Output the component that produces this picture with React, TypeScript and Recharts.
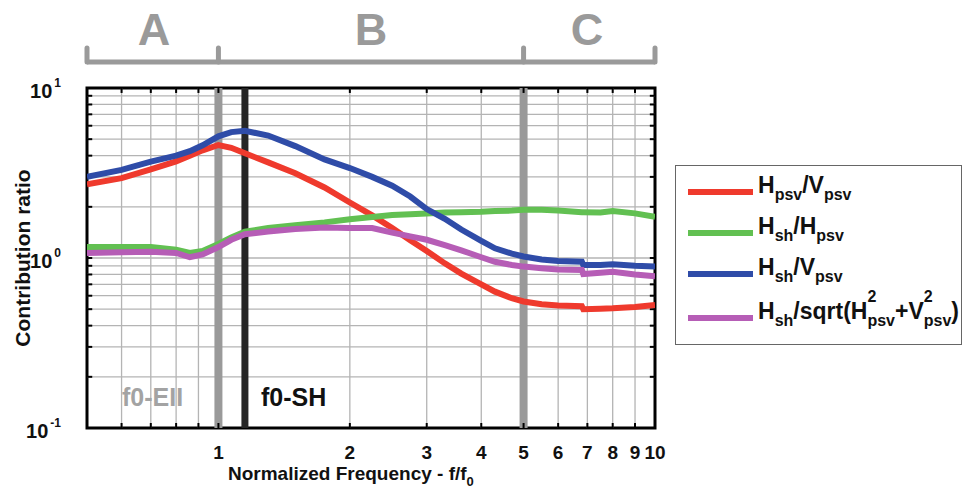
import { ComposedChart, Line, XAxis, YAxis, ReferenceLine, ReferenceArea } from 'recharts';

// normalized frequency f/f0
const freq = [0.5, 0.6, 0.7, 0.8, 0.86, 0.92, 1.0, 1.07, 1.15, 1.3, 1.5, 1.75, 2.0, 2.25, 2.5, 2.75, 3.0, 3.3, 3.6, 4.0, 4.3, 4.7, 5.0, 5.5, 6.0, 6.8, 6.85, 7.5, 8.0, 9.0, 10.0];

const hpsvVpsv = [2.71, 2.95, 3.32, 3.7, 4.0, 4.3, 4.62, 4.45, 4.13, 3.65, 3.15, 2.6, 2.12, 1.78, 1.5, 1.27, 1.1, 0.93, 0.81, 0.7, 0.634, 0.58, 0.555, 0.535, 0.525, 0.52, 0.5, 0.503, 0.506, 0.515, 0.53];
const hshHpsv = [1.16, 1.16, 1.16, 1.12, 1.07, 1.1, 1.21, 1.32, 1.43, 1.5, 1.56, 1.62, 1.69, 1.74, 1.79, 1.81, 1.83, 1.85, 1.86, 1.87, 1.89, 1.9, 1.92, 1.92, 1.9, 1.86, 1.86, 1.85, 1.89, 1.83, 1.75];
const hshVpsv = [3.0, 3.3, 3.69, 4.0, 4.25, 4.6, 5.2, 5.5, 5.6, 5.25, 4.55, 3.8, 3.38, 3.0, 2.66, 2.3, 1.94, 1.7, 1.47, 1.26, 1.14, 1.06, 1.02, 0.98, 0.96, 0.95, 0.91, 0.91, 0.92, 0.9, 0.89];
const hshSqrt = [1.07, 1.08, 1.09, 1.07, 1.01, 1.05, 1.16, 1.28, 1.38, 1.43, 1.48, 1.51, 1.5, 1.5, 1.41, 1.34, 1.28, 1.19, 1.11, 1.01, 0.95, 0.91, 0.89, 0.87, 0.855, 0.85, 0.805, 0.82, 0.83, 0.8, 0.78];

const xTicks = [1, 2, 3, 4, 5, 6, 7, 8, 9, 10];
const yTicks = [0.1, 1, 10];
const xGrid = [0.6, 0.7, 0.8, 0.9, 1, 2, 3, 4, 5, 6, 7, 8, 9];
const yGrid = [0.2, 0.3, 0.4, 0.5, 0.6, 0.7, 0.8, 0.9, 1, 2, 3, 4, 5, 6, 7, 8, 9];
const bracketX = [0.5, 1, 5, 10];

const data = freq.map((f, i) => ({
  f,
  hpsvVpsv: hpsvVpsv[i],
  hshHpsv: hshHpsv[i],
  hshVpsv: hshVpsv[i],
  hshSqrt: hshSqrt[i],
}));

const RED = '#ef3a2d';
const GREEN = '#62c052';
const BLUE = '#2f4ca8';
const MAGENTA = '#b65db6';
const BAND = '#9a9a9a';

const FONT = '"Liberation Sans", Arial, Helvetica, sans-serif';

const XTick = ({ x, y, payload }: any) => (
  <text x={x} y={y + 29} textAnchor="middle" fontSize={19} fontWeight="bold" fill="#111" fontFamily={FONT}>
    {payload.value}
  </text>
);

const YTick = ({ x, y, payload }: any) => {
  const exp = Math.round(Math.log10(payload.value));
  return (
    <text x={x - 24} y={y + 10} textAnchor="end" fontSize={20} fontWeight="bold" fill="#111" fontFamily={FONT}>
      10
      <tspan dx={2} dy={-11} fontSize={12}>{exp}</tspan>
    </text>
  );
};

// subscript, optionally with a superscript stacked above it
const Scripts = ({ sup, sub }: { sup?: string; sub: string }) => (
  <span style={{ position: 'relative', display: 'inline-block', fontSize: 16 }}>
    {sup && <span style={{ position: 'absolute', left: 0, top: -17 }}>{sup}</span>}
    <span style={{ position: 'relative', top: 7 }}>{sub}</span>
  </span>
);

const legendItems = [
  { color: RED, label: <>H<Scripts sub="psv" />/V<Scripts sub="psv" /></> },
  { color: GREEN, label: <>H<Scripts sub="sh" />/H<Scripts sub="psv" /></> },
  { color: BLUE, label: <>H<Scripts sub="sh" />/V<Scripts sub="psv" /></> },
  { color: MAGENTA, label: <>H<Scripts sub="sh" />/sqrt(H<Scripts sup="2" sub="psv" />+V<Scripts sup="2" sub="psv" />)</> },
];
const legendRows = [26, 67, 108, 152];

export default function App() {
  return (
    <div style={{ position: 'relative', width: 964, height: 491, background: '#fff', fontFamily: FONT }}>
      <style>{'body{margin:0}'}</style>
      <ComposedChart width={964} height={491} data={data} margin={{ top: 88, right: 309, bottom: 33, left: 27 }}>
        <XAxis
          dataKey="f"
          type="number"
          scale="log"
          domain={[0.5, 10]}
          allowDataOverflow
          ticks={xTicks}
          tick={<XTick />}
          tickLine={false}
          axisLine={false}
          tickSize={0}
          height={30}
          interval={0}
        />
        <YAxis
          type="number"
          scale="log"
          domain={[0.1, 10]}
          allowDataOverflow
          ticks={yTicks}
          tick={<YTick />}
          tickLine={false}
          axisLine={false}
          tickSize={0}
          width={60}
          interval={0}
        />
        {xGrid.map((v) => (
          <ReferenceLine key={'gx' + v} x={v} stroke="#b4b4b4" strokeWidth={1.3} />
        ))}
        {yGrid.map((v) => (
          <ReferenceLine key={'gy' + v} y={v} stroke="#b4b4b4" strokeWidth={1.3} />
        ))}
        <ReferenceLine x={1} stroke={BAND} strokeWidth={8} />
        <ReferenceLine x={1.15} stroke="#262626" strokeWidth={7} />
        <ReferenceLine x={5} stroke={BAND} strokeWidth={8} />

        {/* small inner ticks on the frame */}
        {xGrid.map((v) => (
          <ReferenceLine key={'tb' + v} segment={[{ x: v, y: 0.1 }, { x: v, y: 0.107 }]} stroke="#000" strokeWidth={2} />
        ))}
        {xGrid.map((v) => (
          <ReferenceLine key={'tt' + v} segment={[{ x: v, y: 10 }, { x: v, y: 9.35 }]} stroke="#000" strokeWidth={2} />
        ))}
        {yGrid.map((v) => (
          <ReferenceLine key={'tl' + v} segment={[{ x: 0.5, y: v }, { x: 0.514, y: v }]} stroke="#000" strokeWidth={2} />
        ))}
        {yGrid.map((v) => (
          <ReferenceLine key={'tr' + v} segment={[{ x: 10, y: v }, { x: 9.73, y: v }]} stroke="#000" strokeWidth={2} />
        ))}

        {/* A / B / C bracket above the plot */}
        <ReferenceLine segment={[{ x: 0.5, y: 14.2 }, { x: 10, y: 14.2 }]} stroke={BAND} strokeWidth={5} ifOverflow="visible" />
        {bracketX.map((v) => (
          <ReferenceLine
            key={'br' + v}
            segment={[{ x: v, y: 14.2 }, { x: v, y: 17.2 }]}
            stroke={BAND}
            strokeWidth={5}
            strokeLinecap="round"
            ifOverflow="visible"
          />
        ))}

        <Line dataKey="hpsvVpsv" stroke={RED} strokeWidth={6} dot={false} isAnimationActive={false} />
        <Line dataKey="hshHpsv" stroke={GREEN} strokeWidth={6} dot={false} isAnimationActive={false} />
        <Line dataKey="hshVpsv" stroke={BLUE} strokeWidth={6} dot={false} isAnimationActive={false} />
        <Line dataKey="hshSqrt" stroke={MAGENTA} strokeWidth={6} dot={false} isAnimationActive={false} />

        <ReferenceArea x1={0.5} x2={10} y1={0.1} y2={10} fill="none" stroke="#000" strokeWidth={3} ifOverflow="visible" />
      </ComposedChart>

      {[
        { t: 'A', x: 154 },
        { t: 'B', x: 371 },
        { t: 'C', x: 587 },
      ].map((d) => (
        <div key={d.t} style={{ position: 'absolute', left: d.x - 30, width: 60, top: 7, textAlign: 'center', fontSize: 45, fontWeight: 'bold', color: BAND, lineHeight: '45px' }}>
          {d.t}
        </div>
      ))}

      <div style={{ position: 'absolute', left: 122, top: 385, fontSize: 25, lineHeight: '25px', fontWeight: 'bold', color: '#a3a3a3' }}>f0-EII</div>
      <div style={{ position: 'absolute', left: 261, top: 385, fontSize: 25, lineHeight: '25px', fontWeight: 'bold', color: '#111' }}>f0-SH</div>

      <div style={{ position: 'absolute', left: 22, top: 258, transform: 'translate(-50%, -50%) rotate(-90deg)', whiteSpace: 'nowrap', fontSize: 21, lineHeight: '21px', fontWeight: 'bold', color: '#111' }}>
        Contribution ratio
      </div>
      <div style={{ position: 'absolute', left: 228, top: 464, fontSize: 19, lineHeight: '19px', fontWeight: 'bold', color: '#111', whiteSpace: 'nowrap' }}>
        Normalized Frequency - f/f<span style={{ fontSize: 13, position: 'relative', top: 6 }}>0</span>
      </div>

      <div style={{ position: 'absolute', left: 675, top: 165, width: 287, height: 180, border: '1px solid #666', boxSizing: 'border-box', background: '#fff' }}>
        {legendItems.map((it, i) => (
          <div key={i}>
            <div style={{ position: 'absolute', left: 12, top: legendRows[i] - 3, width: 65, height: 6, background: it.color }} />
            <span style={{ position: 'absolute', left: 82, top: legendRows[i] - 18, fontSize: 23, lineHeight: '23px', fontWeight: 'bold', color: '#111', whiteSpace: 'nowrap' }}>
              {it.label}
            </span>
          </div>
        ))}
      </div>
    </div>
  );
}
